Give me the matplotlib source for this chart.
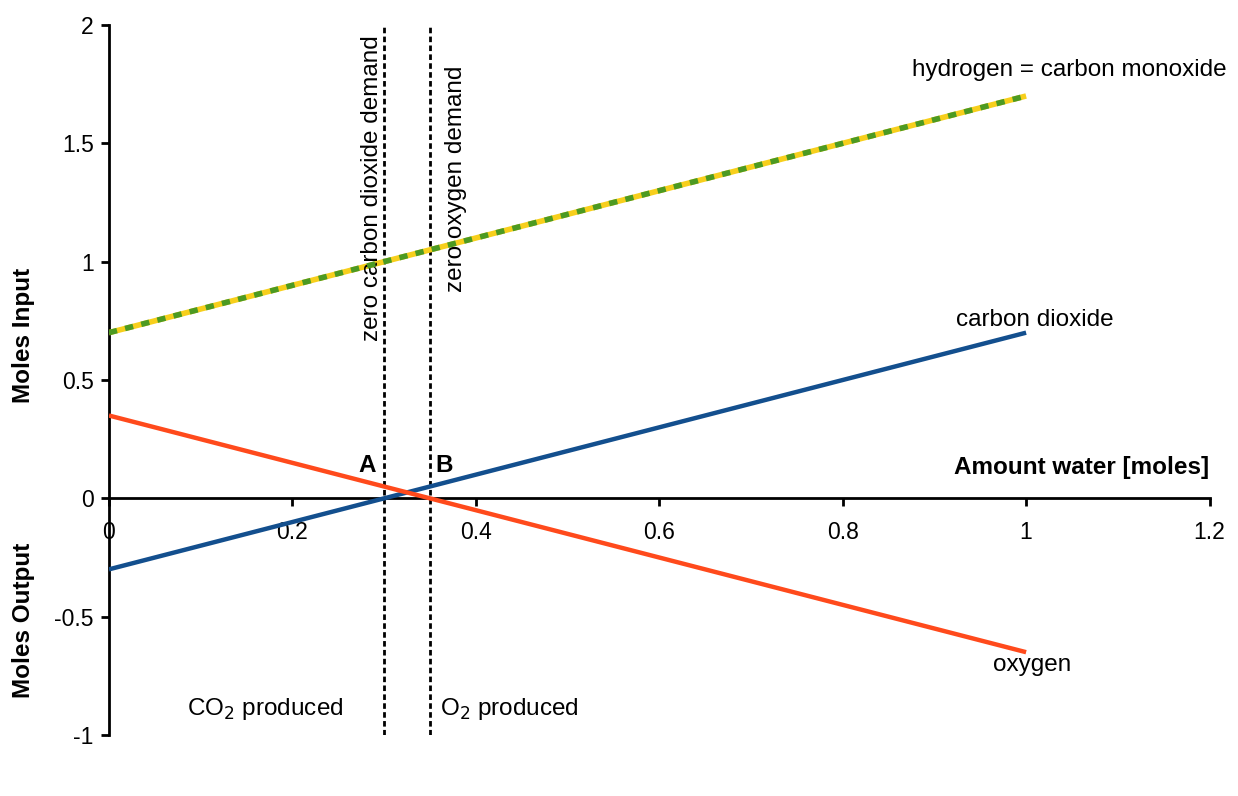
import matplotlib
matplotlib.use("Agg")
import matplotlib.pyplot as plt

plt.rcParams['font.family'] = ['Liberation Sans', 'DejaVu Sans']

# water amount (moles) and the molar balances at the line ends
water = [0.0, 1.0]
hydrogen = [0.7, 1.7]        # hydrogen = carbon monoxide
carbon_dioxide = [-0.3, 0.7]
oxygen = [0.35, -0.65]
zero_co2_demand = 0.3
zero_o2_demand = 0.35

x_ticks = [0, 0.2, 0.4, 0.6, 0.8, 1, 1.2]
x_tick_labels = ['0', '0.2', '0.4', '0.6', '0.8', '1', '1.2']
y_ticks = [-1, -0.5, 0, 0.5, 1, 1.5, 2]
y_tick_labels = ['-1', '-0.5', '0', '0.5', '1', '1.5', '2']

fig = plt.figure(figsize=(12.38, 7.96), dpi=100)
ax = fig.add_axes([0.088, 0.0766, 0.889, 0.892])

ax.set_xlim(0, 1.2)
ax.set_ylim(-1, 2)

ax.spines['top'].set_visible(False)
ax.spines['right'].set_visible(False)
ax.spines['bottom'].set_position(('data', 0))
ax.spines['left'].set_linewidth(2)
ax.spines['bottom'].set_linewidth(2)

ax.set_xticks(x_ticks)
ax.set_xticklabels(x_tick_labels)
ax.set_yticks(y_ticks)
ax.set_yticklabels(y_tick_labels)
ax.tick_params(axis='both', direction='out', length=6, width=2, labelsize=16.5,
               colors='black')
ax.tick_params(axis='x', pad=10)
ax.tick_params(axis='y', pad=5)

# vertical demand markers
for xv in (zero_co2_demand, zero_o2_demand):
    ax.axvline(xv, color='black', linestyle=(0, (2, 1.2)), linewidth=2.0, zorder=2)

# lines
ax.plot(water, carbon_dioxide, color='#134f8e', linewidth=3.2, zorder=3,
        solid_capstyle='butt')
ax.plot(water, oxygen, color='#ff4a1c', linewidth=3.2, zorder=3,
        solid_capstyle='butt')
ax.plot(water, hydrogen, color='#f7cf1c', linewidth=4, zorder=3,
        solid_capstyle='butt')
ax.plot(water, hydrogen, color='#4c9a22', linewidth=4, zorder=4,
        linestyle=(0, (1.5, 1.5)), dash_capstyle='butt')

fs = 17.5
ax.text(1.047, 1.81, 'hydrogen = carbon monoxide', ha='center',
        va='center', fontsize=fs)
ax.text(1.01, 0.755, 'carbon dioxide', ha='center', va='center', fontsize=fs)
ax.text(1.007, -0.703, 'oxygen', ha='center', va='center', fontsize=fs)

ax.text(zero_co2_demand - 0.013, 1.955, 'zero carbon dioxide demand',
        rotation=90, ha='center', va='top', fontsize=fs)
ax.text(zero_o2_demand + 0.028, 1.83, 'zero oxygen demand',
        rotation=90, ha='center', va='top', fontsize=fs)

ax.text(0.281, 0.14, 'A', ha='center', va='center',
        fontsize=fs, fontweight='bold')
ax.text(0.366, 0.14, 'B', ha='center', va='center',
        fontsize=fs, fontweight='bold')

ax.text(1.06, 0.131, 'Amount water [moles]', ha='center', va='center',
        fontsize=fs, fontweight='bold')

ax.text(0.17, -0.89, 'CO$_2$ produced', ha='center', va='center', fontsize=fs)
ax.text(0.437, -0.89, 'O$_2$ produced', ha='center', va='center', fontsize=fs)

fig.text(0.019, 0.579, 'Moles Input', rotation=90, ha='center', va='center',
         fontsize=fs, fontweight='bold')
fig.text(0.019, 0.221, 'Moles Output', rotation=90, ha='center', va='center',
         fontsize=fs, fontweight='bold')

fig.savefig('out.png', dpi=100)
